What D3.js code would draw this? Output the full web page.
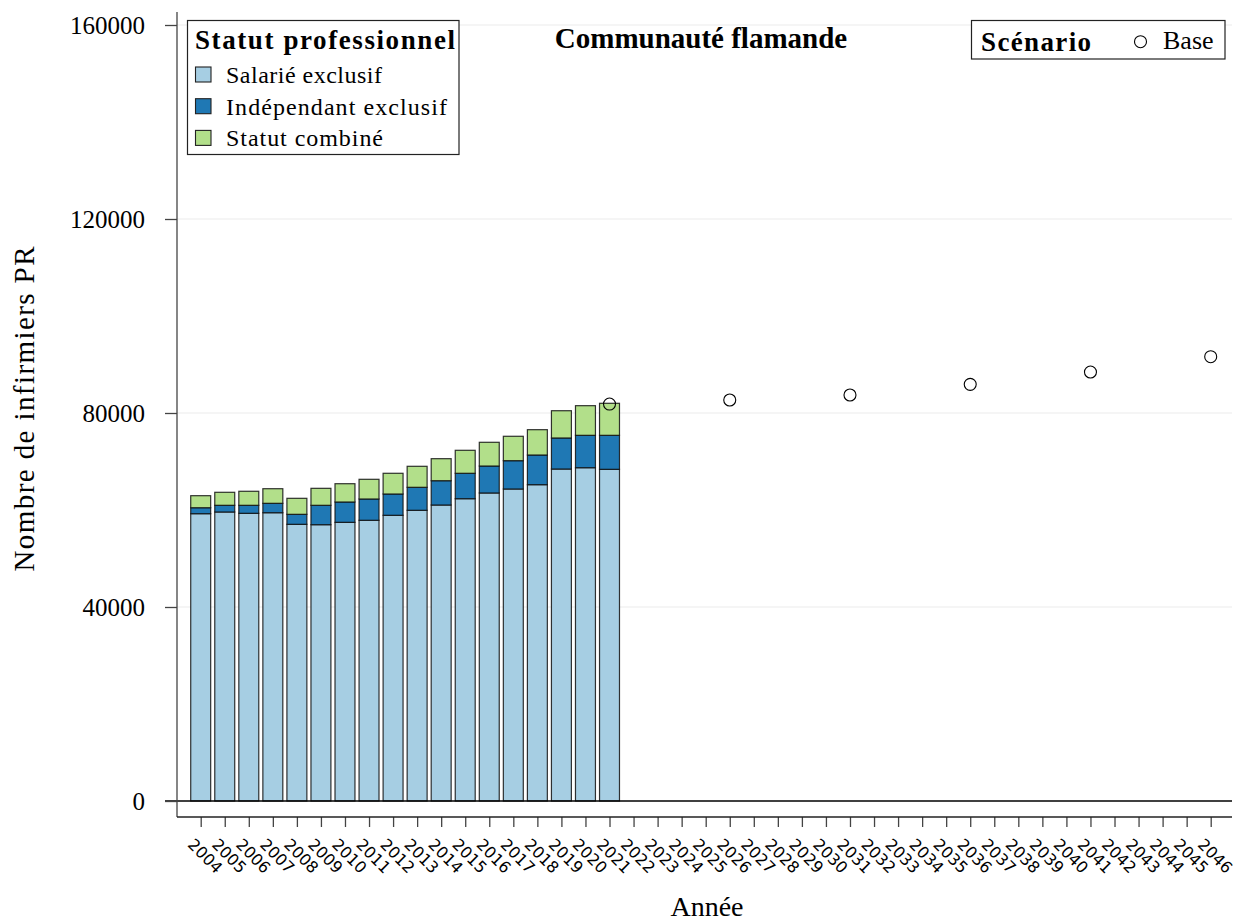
<!DOCTYPE html>
<html>
<head>
<meta charset="utf-8">
<script src="https://cdn.jsdelivr.net/npm/d3@7"></script>
<style>
  body { margin: 0; background: #fff; }
  svg { display: block; }
</style>
</head>
<body>
<script>
// --- data ---
const years = d3.range(2004, 2047).map(String);
const barYears = ["2004","2005","2006","2007","2008","2009","2010","2011","2012","2013",
                  "2014","2015","2016","2017","2018","2019","2020","2021"];
const salarie     = [59240, 59590, 59320, 59440, 57050, 56970, 57460, 57880, 58910, 59940,
                     61030, 62330, 63510, 64330, 65220, 68450, 68720, 68390];
const independant = [1230, 1380, 1650, 1940, 2060, 4000, 4190, 4390, 4390, 4740,
                     5010, 5240, 5560, 5840, 6120, 6400, 6680, 7010];
const combine     = [2480, 2680, 2890, 3010, 3300, 3500, 3770, 4060, 4270, 4330,
                     4540, 4740, 4890, 5030, 5220, 5620, 6110, 6600];
const scenarioYears  = ["2021", "2026", "2031", "2036", "2041", "2046"];
const scenarioValues = [81850, 82680, 83710, 85910, 88450, 91610];
const yTicks = [0, 40000, 80000, 120000, 160000];
const statusLabels = ["Salarié exclusif", "Indépendant exclusif", "Statut combiné"];
const statusColors = ["#a6cee3", "#1f78b4", "#b2df8a"];

const W = 1236, H = 921;
const serif = "'Liberation Serif', 'Times New Roman', serif";

const svg = d3.select("body").append("svg")
  .attr("width", W)
  .attr("height", H);

// scales
const x = d3.scalePoint().domain(years).range([200.7, 1210.7]);
const y = d3.scaleLinear().domain([0, 160000]).range([801, 25]);
const barW = x.step() * 0.83;

// gridlines
svg.append("g")
  .selectAll("line")
  .data(yTicks.filter(d => d > 0))
  .enter().append("line")
  .attr("x1", 177).attr("x2", 1232)
  .attr("y1", d => y(d)).attr("y2", d => y(d))
  .attr("stroke", "#ebebeb")
  .attr("stroke-width", 1);

// stacked bars
const rows = barYears.map((yr, i) => ({ year: yr, s: salarie[i], ind: independant[i], c: combine[i] }));
const stack = d3.stack().keys(["s", "ind", "c"])(rows);

svg.append("g")
  .selectAll("g")
  .data(stack)
  .enter().append("g")
  .attr("fill", (d, i) => statusColors[i])
  .selectAll("rect")
  .data(d => d)
  .enter().append("rect")
  .attr("x", d => x(d.data.year) - barW / 2)
  .attr("width", barW)
  .attr("y", d => y(d[1]))
  .attr("height", d => y(d[0]) - y(d[1]))
  .attr("stroke", "#111")
  .attr("stroke-opacity", 0.85)
  .attr("stroke-width", 1.2);

// zero line
svg.append("line")
  .attr("x1", 165).attr("x2", 1232)
  .attr("y1", y(0)).attr("y2", y(0))
  .attr("stroke", "#000").attr("stroke-width", 1.3);

// y axis
const yAxis = svg.append("g")
  .attr("transform", "translate(177,0)")
  .call(d3.axisLeft(y).tickValues(yTicks).tickSize(12).tickPadding(20).tickFormat(d3.format("d")));
yAxis.select(".domain").remove();
yAxis.selectAll("line").attr("stroke", "#444").attr("stroke-width", 1.3);
yAxis.selectAll("text")
  .attr("font-family", serif)
  .attr("font-size", 25)
  .attr("fill", "#000");
svg.append("line")
  .attr("x1", 177).attr("x2", 177)
  .attr("y1", 12).attr("y2", 817)
  .attr("stroke", "#444").attr("stroke-width", 1.3);

// x axis (offset below the zero line)
const xAxis = svg.append("g")
  .attr("transform", "translate(0,817)")
  .call(d3.axisBottom(x).tickSize(10).tickSizeOuter(0));
xAxis.select(".domain").remove();
xAxis.selectAll("line").attr("stroke", "#444").attr("stroke-width", 1.3);
xAxis.selectAll("text")
  .attr("x", 0).attr("y", 0).attr("dy", "0.35em")
  .attr("text-anchor", "middle")
  .attr("transform", "translate(4,39) rotate(45)")
  .attr("font-family", "'DejaVu Sans', sans-serif")
  .attr("font-size", 16)
  .attr("fill", "#000");
svg.append("line")
  .attr("x1", 177).attr("x2", 1232)
  .attr("y1", 817).attr("y2", 817)
  .attr("stroke", "#222").attr("stroke-width", 1.3);

// scenario points
svg.append("g")
  .selectAll("circle")
  .data(scenarioYears.map((yr, i) => ({ year: yr, v: scenarioValues[i] })))
  .enter().append("circle")
  .attr("cx", d => x(d.year))
  .attr("cy", d => y(d.v))
  .attr("r", 6)
  .attr("fill", "none")
  .attr("stroke", "#000")
  .attr("stroke-width", 1.1);

// axis titles
svg.append("text")
  .attr("x", 707).attr("y", 916)
  .attr("text-anchor", "middle")
  .attr("font-family", serif).attr("font-size", 28)
  .text("Année");

svg.append("text")
  .attr("transform", "translate(34,409) rotate(-90)")
  .attr("text-anchor", "middle")
  .attr("font-family", serif).attr("font-size", 29)
  .attr("textLength", 325).attr("lengthAdjust", "spacing")
  .text("Nombre de infirmiers PR");

// title
svg.append("text")
  .attr("x", 701).attr("y", 48)
  .attr("text-anchor", "middle")
  .attr("font-family", serif).attr("font-size", 29).attr("font-weight", "bold")
  .text("Communauté flamande");

// legend: statut professionnel
const leg = svg.append("g");
leg.append("rect")
  .attr("x", 187.5).attr("y", 20.5).attr("width", 271.5).attr("height", 134)
  .attr("fill", "#fff").attr("stroke", "#222").attr("stroke-width", 1.2);
leg.append("text")
  .attr("x", 195).attr("y", 49)
  .attr("font-family", serif).attr("font-size", 27).attr("font-weight", "bold")
  .attr("textLength", 260).attr("lengthAdjust", "spacing")
  .text("Statut professionnel");
const itemLens = [156, 221, 157];
statusLabels.forEach((lab, i) => {
  const base = 83 + i * 31.7;
  leg.append("rect")
    .attr("x", 195.5).attr("y", base - 16).attr("width", 15.5).attr("height", 15)
    .attr("fill", statusColors[i]).attr("stroke", "#222").attr("stroke-width", 1.1);
  leg.append("text")
    .attr("x", 226).attr("y", base)
    .attr("font-family", serif).attr("font-size", 24)
    .attr("textLength", itemLens[i]).attr("lengthAdjust", "spacing")
    .text(lab);
});

// legend: scénario
const leg2 = svg.append("g");
leg2.append("rect")
  .attr("x", 971.5).attr("y", 20.5).attr("width", 253.5).attr("height", 38.5)
  .attr("fill", "#fff").attr("stroke", "#222").attr("stroke-width", 1.2);
leg2.append("text")
  .attr("x", 981).attr("y", 51)
  .attr("font-family", serif).attr("font-size", 27).attr("font-weight", "bold")
  .attr("textLength", 110).attr("lengthAdjust", "spacing")
  .text("Scénario");
leg2.append("circle")
  .attr("cx", 1140.5).attr("cy", 41.7).attr("r", 6)
  .attr("fill", "none").attr("stroke", "#000").attr("stroke-width", 1.1);
leg2.append("text")
  .attr("x", 1163).attr("y", 49)
  .attr("font-family", serif).attr("font-size", 26)
  .text("Base");
</script>
</body>
</html>
